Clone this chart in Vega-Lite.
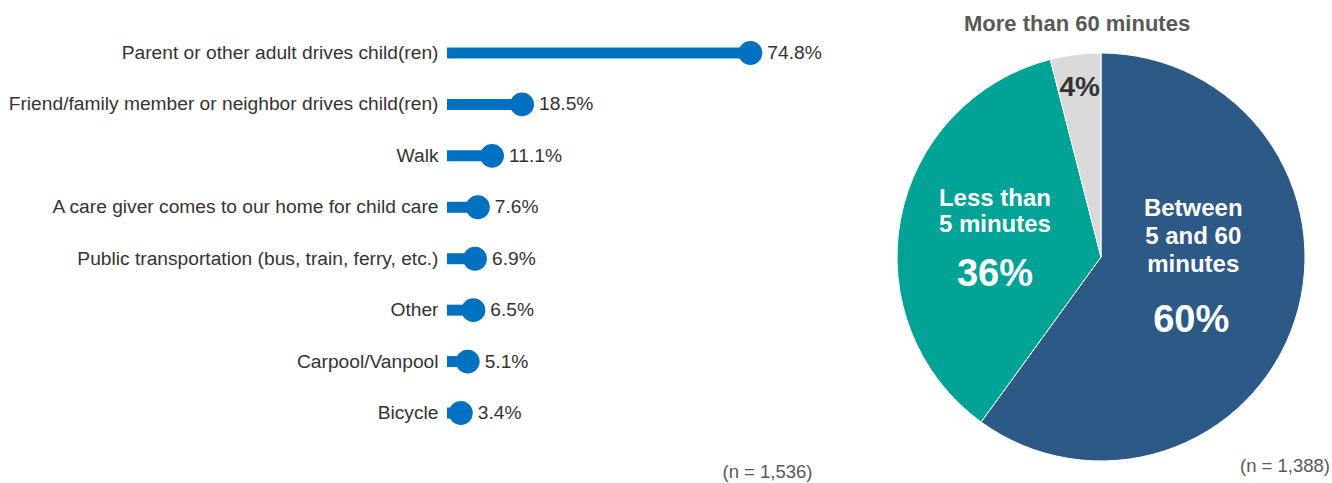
{
  "$schema": "https://vega.github.io/schema/vega-lite/v6.json",
  "padding": {"left": 8, "top": 0, "right": 0, "bottom": 0},
  "background": "white",
  "config": {"view": {"stroke": null}, "font": "Liberation Sans"},
  "bounds": "flush",
  "spacing": 85,
  "hconcat": [
    {
      "width": 365,
      "height": 466,
      "data": {"values": [
        {"mode": "Parent or other adult drives child(ren)", "pct": 74.8, "label": "74.8%"},
        {"mode": "Friend/family member or neighbor drives child(ren)", "pct": 18.5, "label": "18.5%"},
        {"mode": "Walk", "pct": 11.1, "label": "11.1%"},
        {"mode": "A care giver comes to our home for child care", "pct": 7.6, "label": "7.6%"},
        {"mode": "Public transportation (bus, train, ferry, etc.)", "pct": 6.9, "label": "6.9%"},
        {"mode": "Other", "pct": 6.5, "label": "6.5%"},
        {"mode": "Carpool/Vanpool", "pct": 5.1, "label": "5.1%"},
        {"mode": "Bicycle", "pct": 3.4, "label": "3.4%"}
      ]},
      "encoding": {
        "y": {"field": "mode", "type": "nominal", "sort": null,
          "scale": {"paddingInner": 0, "paddingOuter": 0.53},
          "axis": {"title": null, "domain": false, "ticks": false, "grid": false, "labelPadding": 9, "labelFontSize": 19.2, "labelColor": "#333333", "labelLimit": 600}},
        "x": {"field": "pct", "type": "quantitative", "scale": {"domain": [0, 90]},
          "axis": {"title": "(n = 1,536)", "titleAnchor": "end", "titleFontWeight": "normal", "titleFontSize": 18.5, "titleColor": "#595959", "labels": false, "ticks": false, "domain": false, "grid": false, "titlePadding": -4}}
      },
      "layer": [
        {"mark": {"type": "bar", "size": 11, "color": "#0070C0"}},
        {"mark": {"type": "circle", "size": 570, "opacity": 1, "color": "#0070C0"}},
        {"mark": {"type": "text", "align": "left", "baseline": "middle", "dx": 17, "fontSize": 19.2, "color": "#333333"}, "encoding": {"text": {"field": "label"}}}
      ]
    },
    {
      "width": 408,
      "height": 514,
      "title": {"text": "(n = 1,388)", "orient": "bottom", "anchor": "end", "offset": -57, "dx": 0, "fontSize": 18.5, "fontWeight": "normal", "color": "#595959"},
      "data": {"values": [
        {"slot": "Between 5 and 60 minutes", "pct": 60, "o": 1, "label": "Between\n5 and 60\nminutes", "pcttext": "60%"},
        {"slot": "Less than 5 minutes", "pct": 36, "o": 2, "label": "Less than\n5 minutes", "pcttext": "36%"},
        {"slot": "More than 60 minutes", "pct": 4, "o": 3, "label": "More than 60 minutes", "pcttext": "4%"}
      ]},
      "encoding": {
        "theta": {"field": "pct", "type": "quantitative", "stack": true},
        "order": {"field": "o", "type": "quantitative"}
      },
      "layer": [
        {"mark": {"type": "arc", "stroke": "white", "strokeWidth": 1},
          "encoding": {"color": {"field": "slot", "type": "nominal", "legend": null,
            "scale": {"domain": ["Between 5 and 60 minutes", "Less than 5 minutes", "More than 60 minutes"], "range": ["#2D5986", "#00A396", "#D9D9D9"]}}}},
        {"mark": {"type": "text", "radius": 97, "dy": -78, "lineBreak": "\n", "lineHeight": 27.8, "fontSize": 24, "fontWeight": "bold", "color": "white", "baseline": "middle"},
          "encoding": {"text": {"condition": {"test": "datum.o == 1", "field": "label"}, "value": ""}}},
        {"mark": {"type": "text", "radius": 97, "dy": 34, "dx": -2, "fontSize": 38, "fontWeight": "bold", "color": "white", "baseline": "middle"},
          "encoding": {"text": {"condition": {"test": "datum.o == 1", "field": "pcttext"}, "value": ""}}},
        {"mark": {"type": "text", "radius": 108, "dy": -38, "lineBreak": "\n", "lineHeight": 26.5, "fontSize": 24, "fontWeight": "bold", "color": "white", "baseline": "middle"},
          "encoding": {"text": {"condition": {"test": "datum.o == 2", "field": "label"}, "value": ""}}},
        {"mark": {"type": "text", "radius": 108, "dy": 38, "fontSize": 38, "fontWeight": "bold", "color": "white", "baseline": "middle"},
          "encoding": {"text": {"condition": {"test": "datum.o == 2", "field": "pcttext"}, "value": ""}}},
        {"mark": {"type": "text", "radius": 170, "fontSize": 28, "fontWeight": "bold", "color": "#333333", "baseline": "middle"},
          "encoding": {"text": {"condition": {"test": "datum.o == 3", "field": "pcttext"}, "value": ""}}},
        {"mark": {"type": "text", "radius": 235, "dx": 5.5, "fontSize": 22, "fontWeight": "bold", "color": "#595959", "baseline": "middle"},
          "encoding": {"text": {"condition": {"test": "datum.o == 3", "field": "label"}, "value": ""}}}
      ]
    }
  ]
}
